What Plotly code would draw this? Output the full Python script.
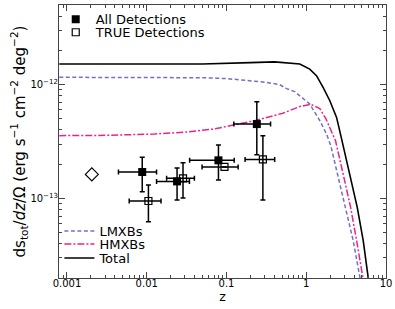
import plotly.graph_objects as go

# ---- model curves ----
z_total = [0.0008, 0.001, 0.01, 0.05, 0.2, 0.4, 0.83, 1.106, 1.344, 1.627, 1.975, 2.4, 2.77, 3.52, 4.36, 5.18, 5.9, 6.5]
s_total = [1.52e-12, 1.52e-12, 1.52e-12, 1.52e-12, 1.56e-12, 1.585e-12, 1.52e-12, 1.37e-12, 1.2e-12, 9.47e-13,
           7.22e-13, 5.15e-13, 3.35e-13, 1.65e-13, 8.34e-14, 4.25e-14, 2.02e-14, 1.3e-14]

z_lmxb = [0.0008, 0.001, 0.01, 0.05, 0.1, 0.225, 0.316, 0.464, 0.564, 0.717, 0.828, 1.106, 1.479, 1.795, 2.03,
          2.47, 3.14, 3.88, 4.71, 5.3]
s_lmxb = [1.16e-12, 1.16e-12, 1.16e-12, 1.15e-12, 1.13e-12, 1.08e-12, 1.047e-12, 1.0e-12, 9.23e-13, 8.68e-13,
          8.0e-13, 6.76e-13, 4.82e-13, 3.68e-13, 2.91e-13, 1.64e-13, 8.34e-14, 4.25e-14, 2.02e-14, 1.3e-14]

z_hmxb = [0.0008, 0.001, 0.003, 0.0125, 0.03, 0.07, 0.225, 0.51, 0.828, 1.14, 1.479, 1.76, 1.975, 2.33, 2.9,
          3.6, 4.28, 5.09, 5.7]
s_hmxb = [3.56e-13, 3.56e-13, 3.58e-13, 3.68e-13, 3.82e-13, 4.07e-13, 4.82e-13, 5.61e-13, 6.41e-13, 6.73e-13,
          6.15e-13, 5.02e-13, 4.21e-13, 3.21e-13, 1.64e-13, 8.34e-14, 4.25e-14, 2.02e-14, 1.3e-14]

# ---- data points ----
all_z = [0.00878, 0.0240, 0.0793, 0.240]
all_z_lo = [0.00442, 0.01328, 0.0345, 0.1236]
all_z_hi = [0.01328, 0.0343, 0.125, 0.357]
all_s = [1.706e-13, 1.41e-13, 2.16e-13, 4.50e-13]
all_s_lo = [1.146e-13, 9.68e-14, 1.45e-13, 2.42e-13]
all_s_hi = [2.30e-13, 1.85e-13, 2.95e-13, 7.08e-13]

true_z = [0.0105, 0.0285, 0.0944, 0.286]
true_z_lo = [0.00603, 0.01775, 0.0494, 0.171]
true_z_hi = [0.0151, 0.0396, 0.140, 0.402]
true_s = [9.48e-14, 1.50e-13, 1.89e-13, 2.20e-13]
true_s_lo = [6.24e-14, 1.01e-13, 1.89e-13, 9.68e-14]
true_s_hi = [1.31e-13, 2.06e-13, 1.89e-13, 3.55e-13]

diamond_z = [0.00205]
diamond_s = [1.625e-13]

x_tickvals = [0.001, 0.01, 0.1, 1, 10]
x_ticktext = ["0.001", "0.01", "0.1", "1", "10"]
y_tickvals = [1e-13, 1e-12]
y_ticktext = ["10<sup>\u221213</sup>", "10<sup>\u221212</sup>"]

FONT = "DejaVu Sans"
AXC = "#444"

x_minor = [m * 10.0 ** e for e in range(-4, 1) for m in range(2, 10)]
y_minor = [m * 10.0 ** e for e in range(-15, -11) for m in range(2, 10)]


def errs(c, lo, hi):
    return [h - v for v, h in zip(c, hi)], [v - l for v, l in zip(c, lo)]


fig = go.Figure()

fig.add_trace(go.Scatter(x=z_lmxb, y=s_lmxb, mode="lines", name="LMXBs", legend="legend3",
                         line=dict(color="#7570c0", width=1.5, dash="4px,2.5px")))
fig.add_trace(go.Scatter(x=z_hmxb, y=s_hmxb, mode="lines", name="HMXBs", legend="legend4",
                         line=dict(color="#e8258c", width=1.5, dash="7px,2px,2px,2px")))
fig.add_trace(go.Scatter(x=z_total, y=s_total, mode="lines", name="Total", legend="legend5",
                         line=dict(color="black", width=1.6)))

ax, axm = errs(all_z, all_z_lo, all_z_hi)
ay, aym = errs(all_s, all_s_lo, all_s_hi)
fig.add_trace(go.Scatter(x=all_z, y=all_s, mode="markers", name="All Detections", legend="legend",
                         marker=dict(symbol="square", size=8, color="black"),
                         error_x=dict(type="data", array=ax, arrayminus=axm, color="black", thickness=1.5, width=2.5),
                         error_y=dict(type="data", array=ay, arrayminus=aym, color="black", thickness=1.5, width=2.5)))

tx, txm = errs(true_z, true_z_lo, true_z_hi)
ty, tym = errs(true_s, true_s_lo, true_s_hi)
fig.add_trace(go.Scatter(x=true_z, y=true_s, mode="markers", name="TRUE Detections", legend="legend2",
                         marker=dict(symbol="square-open", size=7, color="black", line=dict(width=1.2)),
                         error_x=dict(type="data", array=tx, arrayminus=txm, color="black", thickness=1.5, width=2.5),
                         error_y=dict(type="data", array=ty, arrayminus=tym, color="black", thickness=1.5, width=2.5)))

fig.add_trace(go.Scatter(x=diamond_z, y=diamond_s, mode="markers", showlegend=False,
                         marker=dict(symbol="diamond-open", size=10, color="black", line=dict(width=1.2))))

axis_common = dict(type="log", ticks="inside", mirror="ticks", showline=True, linecolor=AXC,
                   linewidth=1.2, tickcolor=AXC, ticklen=6, tickwidth=1, showgrid=False, zeroline=False,
                   automargin=False,
                   tickfont=dict(size=10, family=FONT, color="black"))

fig.update_xaxes(**axis_common, range=[-3.1, 1.0], tickvals=x_tickvals, ticktext=x_ticktext,
                 minor=dict(ticks="inside", ticklen=3, tickcolor=AXC, tickwidth=1, showgrid=False,
                            tickvals=x_minor),
                 ticklabelstandoff=-4,
                 title=dict(text="z", font=dict(size=12.5, family=FONT, color="black"), standoff=4))
fig.update_yaxes(**axis_common, range=[-13.7, -11.3], tickvals=y_tickvals, ticktext=y_ticktext,
                 minor=dict(ticks="inside", ticklen=3, tickcolor=AXC, tickwidth=1, showgrid=False,
                            tickvals=y_minor),
                 ticklabelstandoff=-2,
                 title=dict(text="ds<sub>tot</sub>/<i>dz</i>/\u03a9 (erg s<sup>\u22121</sup> cm<sup>\u22122</sup> deg<sup>\u22122</sup>)",
                            font=dict(size=15, family=FONT, color="black"), standoff=1))


def leg(xp, yp):
    return dict(x=xp, y=yp, xanchor="left", yanchor="middle", bgcolor="rgba(0,0,0,0)",
                font=dict(size=13, family=FONT, color="black"), itemwidth=30, borderwidth=0)


fig.update_layout(
    template="none",
    width=395, height=309,
    margin=dict(l=59, r=9, t=5, b=31, autoexpand=False),
    paper_bgcolor="white", plot_bgcolor="white",
    font=dict(family=FONT, color="black"),
    showlegend=True,
    legend=leg(-0.01, 0.9476),
    legend2=leg(-0.01, 0.9000),
    legend3=leg(0.0012, 0.1722),
    legend4=leg(0.0012, 0.1245),
    legend5=leg(0.0012, 0.0733),
)

fig.write_html("out.html", config={"displayModeBar": False},
               post_script="document.body.style.margin='0';document.body.style.overflow='hidden';")
